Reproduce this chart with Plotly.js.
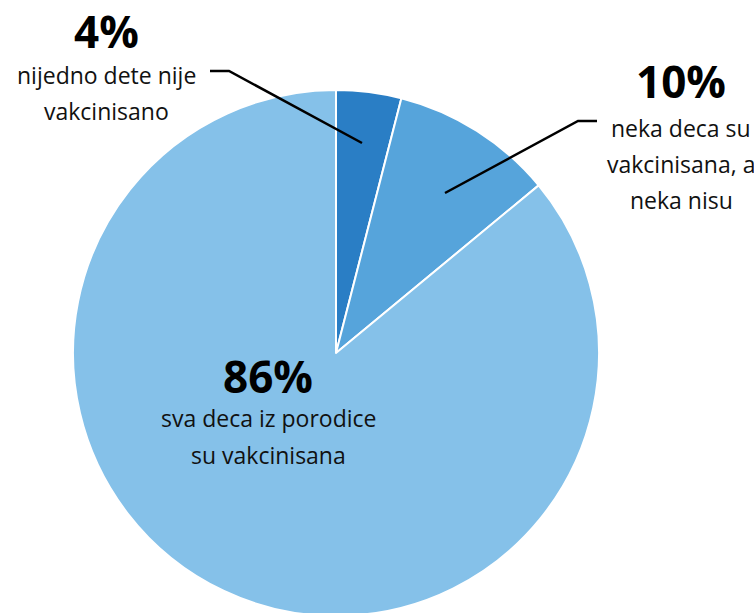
<!DOCTYPE html>
<html>
<head>
<meta charset="utf-8">
<script src="https://cdn.plot.ly/plotly-3.0.1.min.js"></script>
<style>
html,body{margin:0;padding:0;overflow:hidden;background:#fff;}
#chart{width:754px;height:640px;}
</style>
</head>
<body>
<div id="chart"></div>
<script>
const categories = ["nijedno dete nije vakcinisano", "neka deca su vakcinisana, a neka nisu", "sva deca iz porodice su vakcinisana"];
const values = [4, 10, 86];
const percentLabels = ["4%", "10%", "86%"];
const descLines = [
  ["nijedno dete nije", "vakcinisano"],
  ["neka deca su", "vakcinisana, a", "neka nisu"],
  ["sva deca iz porodice", "su vakcinisana"]
];
const colors = ["#2a7ec5", "#56a4db", "#85c1e9"];

const W = 754, H = 640;
const px = x => x / W;
const py = y => 1 - y / H;

const FONT = "Open Sans, sans-serif";

const trace = {
  type: "pie",
  labels: categories,
  values: values,
  sort: false,
  direction: "clockwise",
  rotation: 0,
  marker: {colors: colors, line: {color: "#ffffff", width: 2}},
  textinfo: "none",
  hoverinfo: "none",
  showlegend: false,
  domain: {x: [px(73), px(599)], y: [py(616), py(90)]}
};

// label placement (positions, not data)
const labelPos = [
  {x: 106, yNum: 31, yLines: [75, 111]},
  {x: 681, yNum: 81, yLines: [128, 164, 200]},
  {x: 268, yNum: 376, yLines: [418, 455]}
];

const annotations = [];
labelPos.forEach((p, i) => {
  annotations.push({
    xref: "paper", yref: "paper", x: px(p.x), y: py(p.yNum),
    xanchor: "center", yanchor: "middle", showarrow: false,
    text: "<b>" + percentLabels[i] + "</b>",
    font: {family: FONT, size: 44, color: "#000"}
  });
  descLines[i].forEach((t, j) => {
    annotations.push({
      xref: "paper", yref: "paper", x: px(p.x), y: py(p.yLines[j]),
      xanchor: "center", yanchor: "middle", showarrow: false,
      text: t,
      font: {family: FONT, size: 23, color: "#111"}
    });
  });
});

const shapes = [
  {type: "path", xref: "paper", yref: "paper",
   path: `M ${px(210)} ${py(71)} L ${px(229)} ${py(71)} L ${px(362)} ${py(143)}`,
   line: {color: "#000", width: 2.5}},
  {type: "path", xref: "paper", yref: "paper",
   path: `M ${px(597)} ${py(121)} L ${px(578)} ${py(121)} L ${px(445)} ${py(193)}`,
   line: {color: "#000", width: 2.5}}
];

const layout = {
  width: W, height: H,
  margin: {l: 0, r: 0, t: 0, b: 0},
  paper_bgcolor: "#ffffff",
  plot_bgcolor: "#ffffff",
  annotations: annotations,
  shapes: shapes,
  showlegend: false
};

Plotly.newPlot("chart", [trace], layout, {displayModeBar: false, staticPlot: true});
</script>
</body>
</html>
